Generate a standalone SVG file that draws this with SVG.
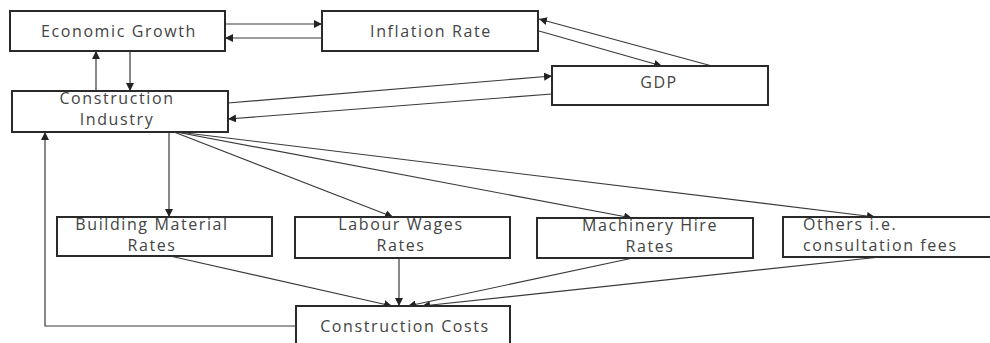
<svg xmlns="http://www.w3.org/2000/svg" width="990" height="343" viewBox="0 0 990 343">
<defs>
<marker id="ah" markerWidth="8" markerHeight="8" refX="8" refY="4" orient="auto" markerUnits="userSpaceOnUse">
<path d="M0,0 L8,4 L0,8 Z" fill="#222"/>
</marker>
<style>
.box{fill:#fff;stroke:#2a2a2a;stroke-width:2}
.t{font-family:"Open Sans","Liberation Sans",sans-serif;font-size:16px;fill:#444;letter-spacing:1.6px}
.c{text-anchor:middle}
.ln{fill:none;stroke:#3a3a3a;stroke-width:1.2}
.ar{marker-end:url(#ah)}
</style>
</defs>
<rect width="990" height="343" fill="#fff"/>
<g id="connectors">
<line class="ln ar" x1="225" y1="24" x2="322" y2="24"/>
<line class="ln ar" x1="322" y1="38" x2="225" y2="38"/>
<line class="ln ar" x1="96" y1="91" x2="96" y2="51"/>
<line class="ln ar" x1="130" y1="51" x2="130" y2="91"/>
<line class="ln ar" x1="539" y1="31" x2="662" y2="66"/>
<line class="ln ar" x1="712" y1="66" x2="539" y2="19"/>
<line class="ln ar" x1="228" y1="103" x2="552" y2="76"/>
<line class="ln ar" x1="552" y1="94" x2="228" y2="119"/>
<line class="ln ar" x1="169" y1="132" x2="169" y2="217"/>
<line class="ln ar" x1="174" y1="132" x2="393" y2="217"/>
<line class="ln ar" x1="176" y1="132" x2="632" y2="218"/>
<line class="ln ar" x1="178" y1="132" x2="875" y2="217"/>
<line class="ln ar" x1="170" y1="256" x2="392" y2="306"/>
<line class="ln ar" x1="399" y1="258" x2="399" y2="306"/>
<line class="ln ar" x1="633" y1="258" x2="408" y2="306"/>
<line class="ln ar" x1="880" y1="257" x2="422" y2="306"/>
<polyline class="ln ar" points="296,326 45,326 45,132"/>
</g>
<g id="economic-growth">
<rect class="box" x="10" y="11" width="215" height="40"/>
<text class="t c" x="119" y="37">Economic Growth</text>
</g>
<g id="inflation-rate">
<rect class="box" x="322" y="11" width="216" height="40"/>
<text class="t c" x="431" y="37">Inflation Rate</text>
</g>
<g id="gdp">
<rect class="box" x="552" y="66" width="216" height="39"/>
<text class="t c" x="659" y="88">GDP</text>
</g>
<g id="construction-industry">
<rect class="box" x="12" y="91" width="216" height="41"/>
<text class="t c" x="117" y="104">Construction</text>
<text class="t c" x="117" y="125">Industry</text>
</g>
<g id="building-material-rates">
<rect class="box" x="57" y="217" width="215" height="39"/>
<text class="t c" x="152" y="230">Building Material</text>
<text class="t c" x="152" y="251">Rates</text>
</g>
<g id="labour-wages-rates">
<rect class="box" x="295" y="217" width="215" height="41"/>
<text class="t c" x="401" y="230">Labour Wages</text>
<text class="t c" x="401" y="251">Rates</text>
</g>
<g id="machinery-hire-rates">
<rect class="box" x="537" y="218" width="216" height="40"/>
<text class="t c" x="650" y="231">Machinery Hire</text>
<text class="t c" x="650" y="252">Rates</text>
</g>
<g id="others">
<rect class="box" x="783" y="217" width="210" height="40"/>
<text class="t" x="803" y="230">Others i.e.</text>
<text class="t" x="803" y="251">consultation fees</text>
</g>
<g id="construction-costs">
<rect class="box" x="296" y="306" width="214" height="40"/>
<text class="t c" x="405" y="332">Construction Costs</text>
</g>
</svg>
